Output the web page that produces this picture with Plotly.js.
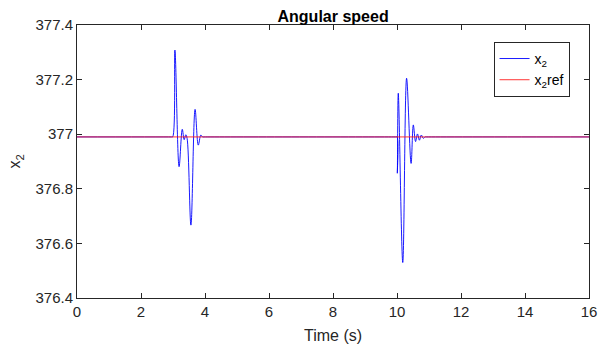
<!DOCTYPE html>
<html>
<head>
<meta charset="utf-8">
<script src="https://cdn.plot.ly/plotly-3.0.1.min.js"></script>
<style>html,body{margin:0;padding:0;background:#fff;}#chart{width:598px;height:351px;}</style>
</head>
<body>
<div id="chart"></div>
<script>
// Angular speed x2, key points of the trajectory
const timeX2 = [0, 2.95, 2.99, 3.06, 3.19, 3.29, 3.35, 3.40, 3.44, 3.56, 3.69, 3.79, 3.87, 3.92, 3.97,
                9.95, 10.00, 10.01, 10.04, 10.18, 10.30, 10.44, 10.51, 10.58, 10.64, 10.70, 10.76, 10.82, 10.88, 10.93, 16];
const speedX2 = [376.99, 376.99, 376.99, 377.308, 376.881, 377.018, 376.980, 376.998, 376.985, 376.667, 377.091, 376.960, 376.997, 376.99, 376.99,
                 376.99, 376.99, 376.857, 377.150, 376.530, 377.205, 376.893, 377.034, 376.973, 377.001, 376.978, 376.997, 376.985, 376.99, 376.99, 376.99];
// Reference speed x2ref
const timeRef = [0, 16];
const speedRef = [376.99, 376.99];

const xTicks = [0, 2, 4, 6, 8, 10, 12, 14, 16];
const yTicks = [376.4, 376.6, 376.8, 377, 377.2, 377.4];

const font = 'Liberation Sans, Arial, Helvetica, sans-serif';
const axisColor = '#262626';

const traces = [
  {x: timeX2, y: speedX2, type: 'scatter', mode: 'lines', name: 'x<sub>2</sub>',
   line: {color: '#0000ff', width: 0.9, shape: 'spline', smoothing: 1}},
  {x: timeRef, y: speedRef, type: 'scatter', mode: 'lines', name: 'x<sub>2</sub>ref',
   line: {color: '#ff0000', width: 0.8}}
];

const layout = {
  width: 598, height: 351,
  margin: {l: 77, r: 9, t: 25, b: 53},
  paper_bgcolor: '#ffffff', plot_bgcolor: '#ffffff',
  font: {family: font, size: 13, color: axisColor},
  title: {text: '<b>Angular speed</b>', font: {family: font, size: 16, color: '#000'},
          x: 0.557, xanchor: 'center', y: 0.952, yanchor: 'middle'},
  showlegend: true,
  legend: {x: 0.962, xanchor: 'right', y: 0.938, yanchor: 'top',
           bgcolor: '#ffffff', bordercolor: axisColor, borderwidth: 1,
           font: {family: font, size: 14, color: '#000'}, tracegroupgap: 2},
  xaxis: {range: [0, 16], tickvals: xTicks, ticktext: xTicks.map(String),
          showgrid: false, zeroline: false, showline: true, mirror: 'ticks',
          linecolor: axisColor, linewidth: 1, ticks: 'inside', ticklen: 5, tickcolor: axisColor,
          tickfont: {family: font, size: 15, color: axisColor},
          title: {text: 'Time (s)', font: {family: font, size: 16, color: axisColor}, standoff: 10}},
  yaxis: {range: [376.4, 377.4], tickvals: yTicks, ticktext: yTicks.map(v => String(v)),
          showgrid: false, zeroline: false, showline: true, mirror: 'ticks',
          linecolor: axisColor, linewidth: 1, ticks: 'inside', ticklen: 5, tickcolor: axisColor,
          tickfont: {family: font, size: 15, color: axisColor},
          title: {text: 'x<sub>2</sub>', font: {family: font, size: 16, color: axisColor}, standoff: 10}}
};

Plotly.newPlot('chart', traces, layout, {displayModeBar: false, staticPlot: true});
</script>
</body>
</html>
